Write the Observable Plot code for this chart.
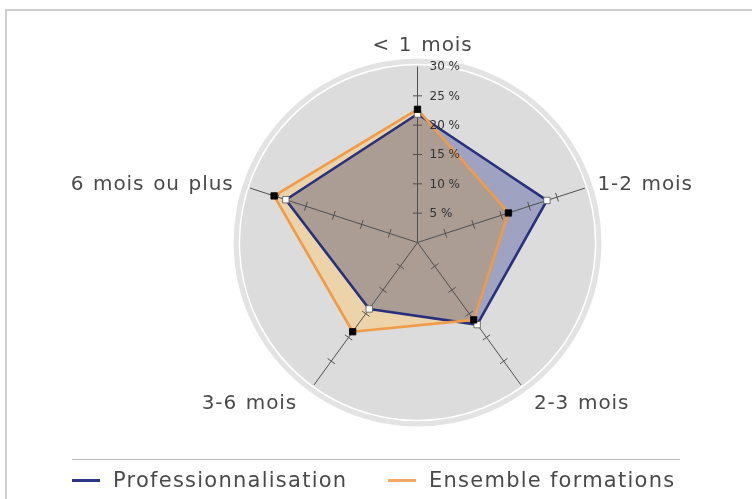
<!DOCTYPE html>
<html>
<head>
<meta charset="utf-8">
<script src="https://cdn.jsdelivr.net/npm/d3@7"></script>
<script src="https://cdn.jsdelivr.net/npm/@observablehq/plot@0.6"></script>
<style>
  html, body { margin: 0; padding: 0; background: #fff; }
  body { width: 752px; height: 499px; position: relative; overflow: hidden; font-family: "DejaVu Sans", sans-serif; }
  #frame { position: absolute; left: 5px; top: 9px; width: 760px; height: 500px; border-top: 2px solid #cfcfcf; border-left: 2px solid #cfcfcf; }
  #chart { position: absolute; left: 0; top: 0; }
  #legend-rule { position: absolute; left: 72px; top: 459px; width: 608px; border-top: 1.5px solid #bdbdbd; }
  .item { position: absolute; top: 468px; height: 24px; display: flex; align-items: center; font-size: 21px; letter-spacing: 1.25px; color: #4a4a4a; white-space: nowrap; }
  .sw { width: 28px; height: 3px; margin-right: 13px; }
</style>
</head>
<body>
<div id="frame"></div>
<div id="chart"></div>
<div id="legend-rule"></div>
<div id="legend"></div>
<script>
// ---- data ----
const categories = ["< 1 mois", "1-2 mois", "2-3 mois", "3-6 mois", "6 mois ou plus"];
const professionnalisation = [21.9, 23.2, 17.3, 14.0, 23.6];
const ensembleFormations = [22.7, 16.3, 16.3, 18.8, 25.7];
const seriesNames = ["Professionnalisation", "Ensemble formations"];
const tickValues = [5, 10, 15, 20, 25, 30];
const tickLabels = ["5 %", "10 %", "15 %", "20 %", "25 %", "30 %"];

// ---- colours ----
const navy = "#26307c";
const orange = "#ef9b48";

// ---- geometry helpers ----
const maxV = 30;
const cx = 417, cy = 242, R = 176;           // centre and 30 % radius in px
const pxPerUnit = R / maxV;
const n = categories.length;
const ang = i => i * 2 * Math.PI / n;
const polar = (v, i) => ({x: v * Math.sin(ang(i)), y: v * Math.cos(ang(i))});

const polygon = (values, name) => values.map((v, i) => ({...polar(v, i), v, cat: categories[i], series: name}));
const profPts = polygon(professionnalisation, seriesNames[0]);
const ensPts = polygon(ensembleFormations, seriesNames[1]);
const closed = pts => [...pts, pts[0]];

const axes = categories.map((c, i) => {
  const p = polar(maxV, i);
  return {x1: 0, y1: 0, x2: p.x, y2: p.y};
});

// perpendicular tick marks on every axis
const halfTick = 4.5 / pxPerUnit;
const ticks = [];
categories.forEach((c, i) => {
  const a = ang(i);
  const px = Math.cos(a), py = -Math.sin(a);
  tickValues.filter(t => t < maxV).forEach(t => {
    const p = polar(t, i);
    ticks.push({x1: p.x - px * halfTick, y1: p.y - py * halfTick, x2: p.x + px * halfTick, y2: p.y + py * halfTick});
  });
});

const tickText = tickValues.map((t, k) => ({x: 0, y: t, label: tickLabels[k].replace(" ", "\u00a0")}));

// category labels
const labelData = categories.map((c, i) => {
  const s = Math.sin(ang(i)), co = Math.cos(ang(i));
  const side = Math.abs(s) > 0.9;
  const r = maxV * (side ? 1.075 : 1.125);
  const anchor = Math.abs(s) < 0.1 ? "middle" : (s > 0 ? "start" : "end");
  return {x: r * s, y: r * co, label: c, anchor};
});
const labelMark = anchor => Plot.text(labelData.filter(d => d.anchor === anchor), {
  x: "x", y: "y", text: "label", textAnchor: anchor, fontSize: 20, fill: "#4a4a4a",
  lineAnchor: "middle", dx: anchor === "middle" ? 5 : (anchor === "end" ? -4 : 0)
});

const chart = Plot.plot({
  width: 752,
  height: 445,
  x: {domain: [-maxV, maxV], range: [cx - R, cx + R], axis: null},
  y: {domain: [-maxV, maxV], range: [cy + R, cy - R], axis: null},
  style: {fontFamily: "DejaVu Sans, sans-serif", background: "transparent", overflow: "visible"},
  marks: [
    // background disk with light rim and white inner line
    Plot.dot([0], {x: 0, y: 0, r: 31.35 * pxPerUnit, fill: "#e3e3e3"}),
    Plot.dot([0], {x: 0, y: 0, r: 30.35 * pxPerUnit, fill: "#dcdcdc", stroke: "#ffffff", strokeWidth: 1.5}),
    // series fills
    Plot.line(closed(ensPts), {x: "x", y: "y", fill: "#f3d095", fillOpacity: 0.72, stroke: "none"}),
    Plot.line(closed(profPts), {x: "x", y: "y", fill: "#b9bde0", stroke: "none", mixBlendMode: "multiply"}),
    // axes & ticks
    Plot.link(axes, {x1: "x1", y1: "y1", x2: "x2", y2: "y2", stroke: "#505050", strokeWidth: 1}),
    Plot.link(ticks, {x1: "x1", y1: "y1", x2: "x2", y2: "y2", stroke: "#505050", strokeWidth: 1}),
    // series outlines
    Plot.line(closed(profPts), {x: "x", y: "y", stroke: navy, strokeWidth: 2.6}),
    Plot.line(closed(ensPts), {x: "x", y: "y", stroke: orange, strokeWidth: 2.6}),
    // markers
    Plot.dot(profPts, {x: "x", y: "y", symbol: "square", r: 3.6, fill: "#ffffff", stroke: "#555", strokeWidth: 0.8}),
    Plot.dot(ensPts, {x: "x", y: "y", symbol: "square", r: 3.6, fill: "#000000", stroke: "#000", strokeWidth: 0.8}),
    // value scale labels
    Plot.text(tickText, {x: "x", y: "y", text: "label", dx: 12, textAnchor: "start", fontSize: 12, fill: "#333", lineAnchor: "middle"}),
    // category labels
    labelMark("middle"),
    labelMark("start"),
    labelMark("end")
  ]
});
// wider spacing for the category labels (the original uses a wide geometric face)
d3.select(chart).selectAll("text")
  .filter(function() { return categories.includes(this.textContent); })
  .style("letter-spacing", "0.9px").style("word-spacing", "1.5px");
document.getElementById("chart").appendChild(chart);

// legend
const legend = document.getElementById("legend");
const legendPos = [72, 388];
[[seriesNames[0], "#2b3486"], [seriesNames[1], "#f3a865"]].forEach(([name, col], k) => {
  const it = document.createElement("div");
  it.className = "item";
  it.style.left = legendPos[k] + "px";
  it.innerHTML = `<div class="sw" style="background:${col}"></div><span>${name}</span>`;
  legend.appendChild(it);
});
</script>
</body>
</html>
